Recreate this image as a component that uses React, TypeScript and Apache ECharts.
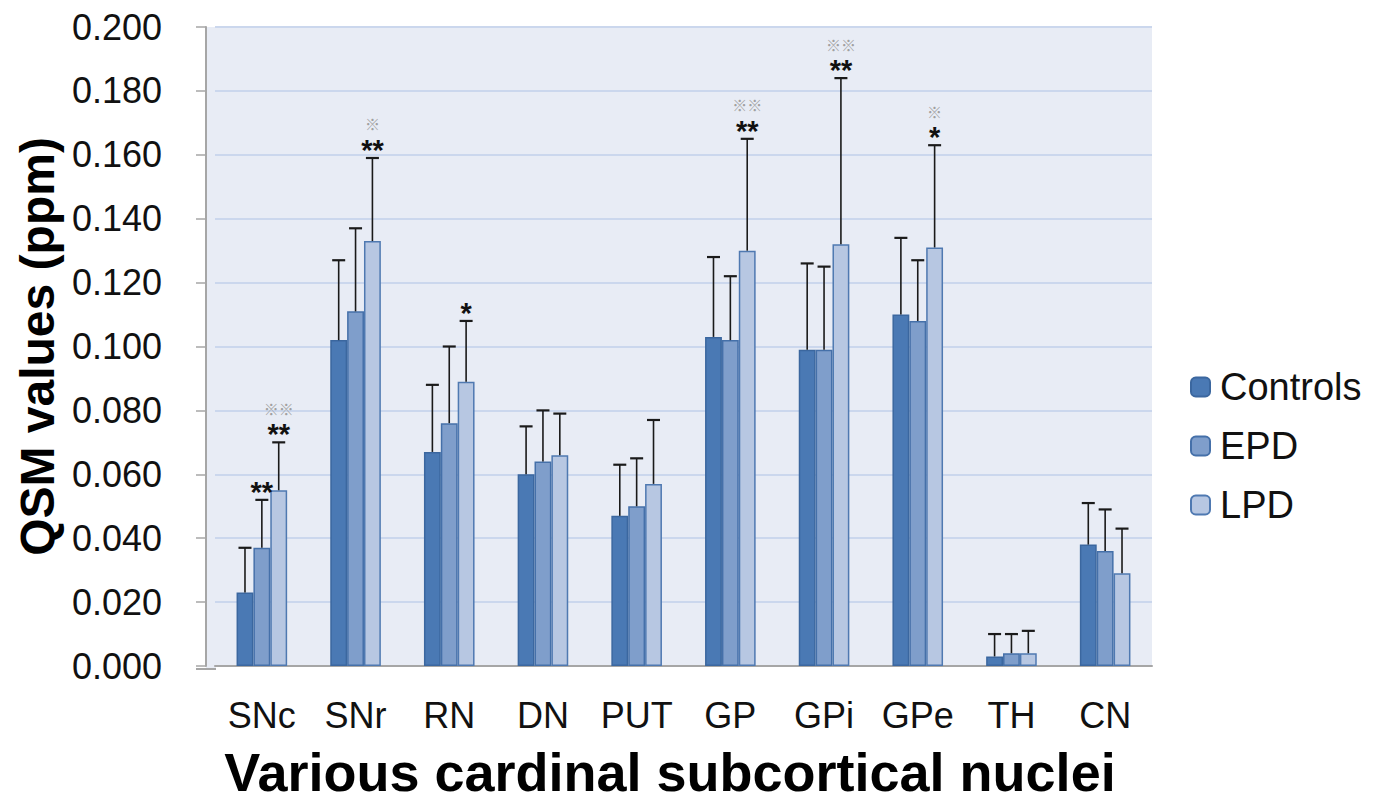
import React, { useEffect, useRef } from "react";
import * as echarts from "echarts";

const categories = ["SNc", "SNr", "RN", "DN", "PUT", "GP", "GPi", "GPe", "TH", "CN"];
const seriesNames = ["Controls", "EPD", "LPD"];

const controlsMean = [0.023, 0.102, 0.067, 0.060, 0.047, 0.103, 0.099, 0.110, 0.003, 0.038];
const controlsErrTop = [0.037, 0.127, 0.088, 0.075, 0.063, 0.128, 0.126, 0.134, 0.010, 0.051];
const epdMean = [0.037, 0.111, 0.076, 0.064, 0.050, 0.102, 0.099, 0.108, 0.004, 0.036];
const epdErrTop = [0.052, 0.137, 0.100, 0.080, 0.065, 0.122, 0.125, 0.127, 0.010, 0.049];
const lpdMean = [0.055, 0.133, 0.089, 0.066, 0.057, 0.130, 0.132, 0.131, 0.004, 0.029];
const lpdErrTop = [0.070, 0.159, 0.108, 0.079, 0.077, 0.165, 0.184, 0.163, 0.011, 0.043];

const controlsStars = ["", "", "", "", "", "", "", "", "", ""];
const epdStars = ["**", "", "", "", "", "", "", "", "", ""];
const lpdStars = ["**", "**", "*", "", "", "**", "**", "*", "", ""];
const controlsMarks = ["", "", "", "", "", "", "", "", "", ""];
const epdMarks = ["", "", "", "", "", "", "", "", "", ""];
const lpdMarks = ["※※", "※", "", "", "", "※※", "※※", "※", "", ""];

const yTicks = { min: 0, max: 0.2, interval: 0.02 };

const fills = ["#4a79b4", "#7f9ecb", "#b7c7e2"];
const borders = ["#3b679f", "#4570a9", "#4f79b1"];
const BG = "#e8ecf5";
const AXIS = "#a6a6a6";
const FONT = "'Liberation Sans', Arial, sans-serif";
const BAR_FRAC = 0.18;

const means = [controlsMean, epdMean, lpdMean];
const errTops = [controlsErrTop, epdErrTop, lpdErrTop];
const stars = [controlsStars, epdStars, lpdStars];
const marks = [controlsMarks, epdMarks, lpdMarks];

export default function App() {
  const ref = useRef<HTMLDivElement>(null);
  useEffect(() => {
    if (!ref.current) return;
    const chart = echarts.init(ref.current, null, { renderer: "svg" });
    const barSeries = seriesNames.map((name, k) => ({
      name,
      type: "bar",
      data: means[k],
      barWidth: BAR_FRAC * 100 + "%",
      barGap: "0%",
      itemStyle: { color: fills[k], borderColor: borders[k], borderWidth: 1.5 },
      z: 2,
    }));
    const errSeries = seriesNames.map((name, k) => ({
      name: name + " error",
      type: "custom",
      z: 5,
      data: categories.map((_, i) => [i, means[k][i], errTops[k][i]]),
      encode: { x: 0, y: 2 },
      renderItem: (params: any, api: any) => {
        const i = params.dataIndex;
        const ci = api.value(0);
        const v = api.value(1);
        const hi = api.value(2);
        const base = api.coord([ci, v]);
        const top = api.coord([ci, hi]);
        const bw = api.size([1, 0])[0] * BAR_FRAC;
        const x = base[0] + (k - 1) * bw;
        const children: any[] = [
          { type: "line", shape: { x1: x, y1: base[1], x2: x, y2: top[1] }, style: { stroke: "#1a1a1a", lineWidth: 1.6 } },
          { type: "line", shape: { x1: x - 6.5, y1: top[1], x2: x + 6.5, y2: top[1] }, style: { stroke: "#1a1a1a", lineWidth: 2.2 } },
        ];
        if (stars[k][i]) {
          children.push({
            type: "text",
            x: x,
            y: top[1] - 8,
            style: { text: stars[k][i], font: `bold 29px ${FONT}`, fill: "#111", align: "center", verticalAlign: "middle" },
          });
        }
        if (marks[k][i]) {
          children.push({
            type: "text",
            x: x,
            y: top[1] - 34,
            style: { text: marks[k][i], font: `15px 'Noto Sans CJK JP', ${FONT}`, fill: "#a0a0a0", align: "center", verticalAlign: "middle" },
          });
        }
        return { type: "group", children };
      },
    }));
    chart.setOption({
      animation: false,
      textStyle: { fontFamily: FONT },
      grid: {
        left: 215,
        right: 226,
        top: 27,
        bottom: 135,
        show: true,
        backgroundColor: BG,
        borderWidth: 0,
        containLabel: false,
      },
      graphic: [
        { type: "rect", z: -10, shape: { x: 206, y: 27, width: 10, height: 642 }, style: { fill: BG } },
        { type: "line", z: 10, shape: { x1: 196, y1: 669, x2: 216, y2: 669 }, style: { stroke: AXIS, lineWidth: 2 } },
      ],
      legend: {
        data: seriesNames,
        orient: "vertical",
        left: 1190,
        top: 368,
        padding: 0,
        itemWidth: 19,
        itemHeight: 19,
        itemGap: 21,
        textStyle: { fontSize: 38, color: "#111", fontFamily: FONT, padding: [0, 0, 0, 5] },
      },
      xAxis: {
        type: "category",
        data: categories,
        axisLine: { show: true, lineStyle: { color: AXIS, width: 2 } },
        axisTick: { show: false },
        axisLabel: { fontSize: 36, color: "#111", margin: 31, fontFamily: FONT },
        name: "Various cardinal subcortical nuclei",
        nameLocation: "middle",
        nameGap: 79,
        nameTextStyle: { fontSize: 54, fontWeight: "bold", color: "#000", fontFamily: FONT, padding: [0, 27, 0, 0] },
      },
      yAxis: {
        type: "value",
        offset: 9,
        min: yTicks.min,
        max: yTicks.max,
        interval: yTicks.interval,
        axisLine: { show: true, lineStyle: { color: AXIS, width: 2 } },
        axisTick: { show: true, inside: false, length: 10, lineStyle: { color: AXIS, width: 1.5 } },
        axisLabel: {
          fontSize: 36,
          color: "#111",
          margin: 44,
          fontFamily: FONT,
          formatter: (val: number) => val.toFixed(3),
        },
        splitLine: { show: true, lineStyle: { color: "#cbd7ed", width: 2 } },
        name: "QSM values (ppm)",
        nameLocation: "middle",
        nameRotate: 90,
        nameGap: 144,
        nameTextStyle: { fontSize: 48, fontWeight: "bold", color: "#000", fontFamily: FONT },
      },
      series: [...barSeries, ...errSeries],
    });
    return () => chart.dispose();
  }, []);
  return <div ref={ref} style={{ position: "absolute", left: 0, top: 0, width: 1378, height: 804 }} />;
}
